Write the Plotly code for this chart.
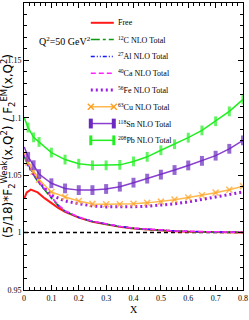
import plotly.graph_objects as go

# ---- data ----
x_free = [0.001, 0.01, 0.025, 0.05, 0.075, 0.1, 0.125, 0.15, 0.2, 0.25, 0.3, 0.35, 0.4, 0.45, 0.5, 0.55, 0.6, 0.7, 0.8]
y_free = [1.0296, 1.035, 1.0374, 1.035, 1.030, 1.0255, 1.0215, 1.018, 1.013, 1.0095, 1.007, 1.005, 1.0035, 1.0025, 1.0017, 1.0011, 1.0007, 1.0003, 1.0001]

x_nuc = [0.001, 0.01, 0.025, 0.05, 0.075, 0.1, 0.125, 0.15, 0.2, 0.25, 0.3, 0.35, 0.4, 0.45, 0.5, 0.55, 0.6, 0.7, 0.8]
y_C = [1.066, 1.061, 1.054, 1.0445, 1.037, 1.030, 1.0235, 1.0185, 1.0132, 1.0097, 1.0072, 1.0052, 1.0037, 1.0027, 1.0019, 1.0013, 1.0009, 1.0004, 1.0002]
y_Al = [1.068, 1.062, 1.055, 1.0455, 1.0375, 1.0305, 1.0238, 1.0187, 1.0133, 1.0098, 1.0073, 1.0053, 1.0038, 1.0028, 1.0020, 1.0014, 1.0010, 1.0005, 1.0002]
y_Ca = [1.070, 1.063, 1.056, 1.046, 1.038, 1.031, 1.0242, 1.019, 1.0135, 1.0099, 1.0074, 1.0054, 1.0039, 1.0029, 1.0021, 1.0015, 1.0011, 1.0006, 1.0003]

x_fe = [0.001, 0.015, 0.035, 0.055, 0.1, 0.15, 0.2, 0.25, 0.3, 0.35, 0.4, 0.45, 0.5, 0.55, 0.6, 0.65, 0.7, 0.75, 0.8]
y_Fe = [1.068, 1.059, 1.051, 1.0445, 1.0325, 1.0275, 1.0252, 1.0232, 1.0224, 1.0222, 1.0225, 1.0230, 1.0238, 1.0250, 1.0267, 1.0287, 1.0310, 1.0332, 1.0354]

x_mk = [0.001, 0.015, 0.035, 0.055, 0.1, 0.15, 0.2, 0.25, 0.3, 0.35, 0.4, 0.45, 0.5, 0.55, 0.6, 0.65, 0.7, 0.75, 0.8]
y_Cu = [1.070, 1.061, 1.053, 1.046, 1.0354, 1.031, 1.0275, 1.0250, 1.0247, 1.0247, 1.0252, 1.0259, 1.0270, 1.0287, 1.0305, 1.0325, 1.0348, 1.0374, 1.0404]
y_Sn = [1.0746, 1.066, 1.0587, 1.051, 1.043, 1.0385, 1.0370, 1.0370, 1.0380, 1.0400, 1.0435, 1.0470, 1.0505, 1.0545, 1.0585, 1.0625, 1.0670, 1.0730, 1.0804]
y_Pb = [1.100, 1.0915, 1.083, 1.079, 1.0697, 1.0636, 1.0600, 1.0586, 1.0586, 1.0590, 1.0620, 1.0660, 1.0717, 1.0770, 1.0827, 1.0890, 1.0970, 1.1056, 1.1160]

x_ticks = [0, 0.1, 0.2, 0.3, 0.4, 0.5, 0.6, 0.7, 0.8]
y_ticks = [0.95, 1.0, 1.05, 1.1, 1.15]

FONT = "Liberation Serif"
msize = lambda n, s: [0] + [s] * (n - 1)

# series styles: (name, x, y, line style, marker style or None)
series = [
    ("Free", x_free, y_free, dict(color="#ff1a1a", width=2), None),
    ("<sup>12</sup>C NLO Total", x_nuc, y_C, dict(color="#119911", width=1.5, dash="dashdot"), None),
    ("<sup>27</sup>Al NLO Total", x_nuc, y_Al, dict(color="#1a1aff", width=1.5, dash="4px,2px,1px,2px,1px,2px"), None),
    ("<sup>40</sup>Ca NLO Total", x_nuc, y_Ca, dict(color="#ff22ff", width=1.5, dash="5px,3px"), None),
    ("<sup>56</sup>Fe NLO Total", x_fe, y_Fe, dict(color="#9b1fe0", width=3, dash="2px,3px"), None),
    ("<sup>63</sup>Cu NLO Total", x_mk, y_Cu, dict(color="#ffb84d", width=1.5),
     dict(symbol="x-thin", size=6, line=dict(color="#ffa020", width=1.5))),
    ("<sup>118</sup>Sn NLO Total", x_mk, y_Sn, dict(color="#8a3fd0", width=1.5),
     dict(symbol="line-ns", size=7, line=dict(color="#6a2ac0", width=4))),
    ("<sup>208</sup>Pb NLO Total", x_mk, y_Pb, dict(color="#22ee22", width=1.5),
     dict(symbol="line-ns", size=7, line=dict(color="#22ee22", width=3))),
]

fig = go.Figure()
fig.add_hline(y=1.0, line=dict(color="black", width=1.5, dash="4px,3px"), layer="below")

for name, xs, ys, ln, mk in series:
    if mk is None:
        fig.add_trace(go.Scatter(x=xs, y=ys, mode="lines", name=name, line=ln, showlegend=False))
    else:
        m = dict(mk)
        m["size"] = msize(len(xs), mk["size"])
        fig.add_trace(go.Scatter(x=xs, y=ys, mode="lines+markers", name=name, line=ln,
                                 marker=m, showlegend=False))

# ---- hand-made legend (key glyphs on an overlay paper-like axis) ----
LEG_X0, LEG_X1, LEG_TX = 0.305, 0.41, 0.418
LEG_Y0, LEG_DY = 0.931, 0.0585
for i, (name, xs, ys, ln, mk) in enumerate(series):
    yy = LEG_Y0 - i * LEG_DY
    if mk is None:
        fig.add_trace(go.Scatter(x=[LEG_X0, LEG_X1], y=[yy, yy], mode="lines", line=ln,
                                 xaxis="x2", yaxis="y2", showlegend=False, hoverinfo="skip"))
    else:
        fig.add_trace(go.Scatter(x=[LEG_X0, LEG_X1], y=[yy, yy], mode="lines+markers", line=ln,
                                 marker=mk, xaxis="x2", yaxis="y2", showlegend=False,
                                 hoverinfo="skip", cliponaxis=False))
    fig.add_annotation(xref="paper", yref="paper", x=LEG_TX, y=yy, xanchor="left", yanchor="middle",
                       showarrow=False, text=name, font=dict(family=FONT, size=8, color="black"))

axis_common = dict(showline=True, linecolor="black", linewidth=1, mirror="ticks",
                   ticks="inside", ticklen=5, tickwidth=1, tickcolor="black",
                   showgrid=False, zeroline=False, ticklabeloverflow="allow",
                   tickfont=dict(family=FONT, size=8, color="black"))
fig.update_layout(
    xaxis=dict(range=[0, 0.8], tickvals=x_ticks, **axis_common,
               minor=dict(ticks="inside", ticklen=3, dtick=0.02, tickcolor="black", showgrid=False),
               title=dict(text="X", font=dict(family=FONT, size=10, color="black"), standoff=4)),
    yaxis=dict(range=[0.95, 1.2], tickvals=y_ticks, **axis_common,
               minor=dict(ticks="inside", ticklen=3, dtick=0.01, tickcolor="black", showgrid=False)),
    xaxis2=dict(range=[0, 1], overlaying="x", visible=False, fixedrange=True),
    yaxis2=dict(range=[0, 1], overlaying="y", visible=False, fixedrange=True),
)

fig.add_annotation(xref="paper", yref="paper", x=-0.075, y=0.5, textangle=-90,
                   showarrow=False, xanchor="center", yanchor="middle",
                   text="(5/18)*F<sub>2</sub><sup>Weak</sup>(x,Q<sup>2</sup>) / F<sub>2</sub><sup>EM</sup>(x,Q<sup>2</sup>)",
                   font=dict(family="DejaVu Sans", size=12, color="black"))
fig.add_annotation(xref="paper", yref="paper", x=0.058, y=0.868, xanchor="left", yanchor="middle",
                   showarrow=False, text="Q<sup>2</sup>=50 GeV<sup>2</sup>",
                   font=dict(family=FONT, size=10, color="black"))

fig.update_layout(
    width=249, height=320,
    margin=dict(l=24, r=1, t=3, b=30),
    plot_bgcolor="white", paper_bgcolor="white",
    showlegend=False,
)
fig.write_html("out.html", config={"displayModeBar": False},
               post_script="document.body.style.margin='0';document.body.style.overflow='hidden';")
